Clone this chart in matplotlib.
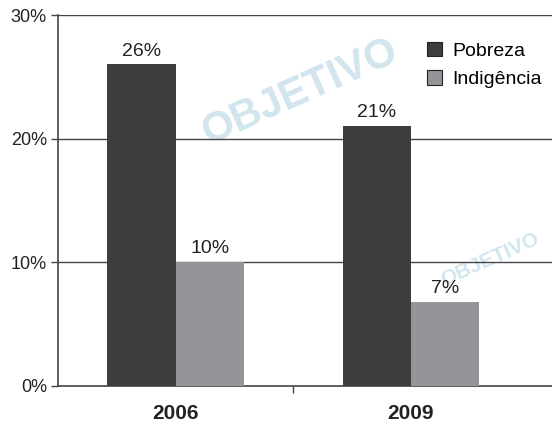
import numpy as np
import matplotlib
matplotlib.use("Agg")
import matplotlib.pyplot as plt

plt.rcParams['font.family'] = ['Liberation Sans', 'DejaVu Sans']

# ── data ─────────────────────────────────────────────────────────────────────
years        = ["2006", "2009"]
pobreza      = [26, 21]
indigencia   = [10, 6.8]
pob_labels   = ["26%", "21%"]
ind_labels   = ["10%", "7%"]
y_ticks      = [0, 10, 20, 30]

DARK  = "#3d3d3d"
LIGHT = "#939598"

fig = plt.figure(figsize=(5.52, 4.22), dpi=100)
ax  = fig.add_axes([58 / 552, 1 - 386 / 422, 1 - 58 / 552, 371 / 422])

x = np.arange(len(years))
w = 0.29

b1 = ax.bar(x - w / 2, pobreza,    w, color=DARK,  label="Pobreza",    zorder=3)
b2 = ax.bar(x + w / 2, indigencia, w, color=LIGHT, label="Indigência", zorder=3)

for rect, lab in zip(b1, pob_labels):
    ax.text(rect.get_x() + rect.get_width() / 2, rect.get_height() + 0.4, lab,
            ha="center", va="bottom", fontsize=14, color="#222222", zorder=4)
for rect, lab in zip(b2, ind_labels):
    ax.text(rect.get_x() + rect.get_width() / 2, rect.get_height() + 0.4, lab,
            ha="center", va="bottom", fontsize=14, color="#222222", zorder=4)

# watermark (behind the axes)
fig.text(300 / 552, 1 - 92 / 422, "OBJETIVO", fontsize=30, fontweight="bold",
         color="#d2e5ef", rotation=24, ha="center", va="center", zorder=-1)
fig.text(490 / 552, 1 - 260 / 422, "OBJETIVO", fontsize=15, fontweight="bold",
         color="#d2e5ef", rotation=24, ha="center", va="center", zorder=-1)

ax.set_xlim(-0.5, 1.6)
ax.set_ylim(0, 30)
ax.set_yticks(y_ticks)
ax.set_yticklabels([f"{t}%" for t in y_ticks], fontsize=13, color="#222222")
for t in y_ticks[1:]:
    ax.axhline(t, color="#444444", lw=1.0, zorder=2)

ax.set_xticks(x)
ax.set_xticklabels(years, fontsize=15, fontweight="bold", color="#222222")
ax.tick_params(axis="x", length=0, pad=13)
ax.set_xticks([0.5], minor=True)
ax.tick_params(axis="x", which="minor", length=5, width=1, color="#444444")
ax.tick_params(axis="y", length=5, width=1, color="#444444", pad=3)

for s in ["top", "right"]:
    ax.spines[s].set_visible(False)
for s in ["left", "bottom"]:
    ax.spines[s].set_color("#444444")
    ax.spines[s].set_linewidth(1.2)
ax.patch.set_alpha(0)

leg = ax.legend(loc="upper right", bbox_to_anchor=(1.015, 0.975), frameon=False,
                fontsize=14, handlelength=0.75, handleheight=0.75,
                handletextpad=0.55, labelspacing=0.55)
for h in leg.legend_handles:
    h.set_edgecolor("#222222")
    h.set_linewidth(0.8)

fig.savefig("out.png", dpi=100)
